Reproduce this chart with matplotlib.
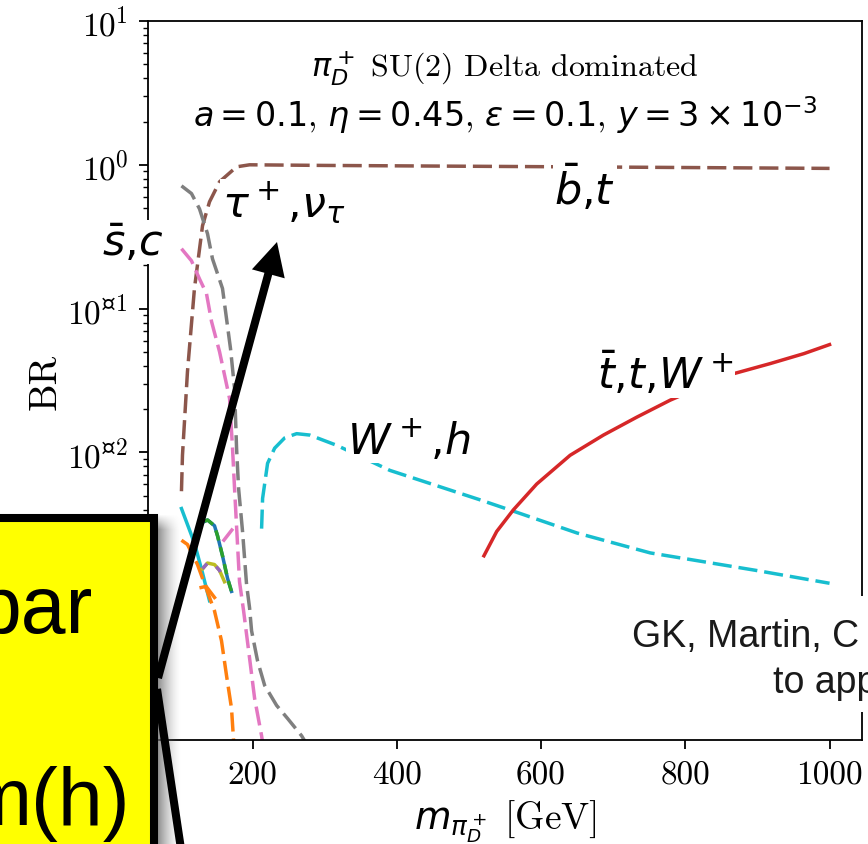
import numpy as np
import matplotlib
matplotlib.use("Agg")
import matplotlib.pyplot as plt
from matplotlib.patches import Rectangle, Polygon
from matplotlib.lines import Line2D

plt.rcParams["font.family"] = ["cmr10", "DejaVu Serif"]
plt.rcParams["mathtext.fontset"] = "dejavusans"
plt.rcParams["mathtext.rm"] = "cmr10"
plt.rcParams["mathtext.sf"] = "DejaVu Serif"
plt.rcParams["mathtext.fallback"] = "stix"
plt.rcParams["axes.unicode_minus"] = False
plt.rcParams["axes.formatter.use_mathtext"] = True

# branching ratios of pi_D^+ vs mass [GeV]
m_bt = [101.4, 102.8, 109.7, 119.4, 130.6, 140.3, 154.2, 177.8, 195.8, 300, 500, 700, 1000]
br_bt = [0.00537, 0.00955, 0.0363, 0.138, 0.377, 0.553, 0.762, 0.968, 1.0, 0.99, 0.977, 0.964, 0.944]

m_taunu = [101.4, 115.3, 126.4, 137.5, 144.4, 158.3, 169.4, 175.0, 177.8, 180.6, 186.1,
           191.7, 195.8, 198.6, 206.9, 216.7, 233.3, 248.6, 268.0, 290.0]
br_taunu = [0.714, 0.631, 0.494, 0.332, 0.222, 0.138, 0.0527, 0.0278, 0.0107, 0.00562, 0.00282,
            0.00120, 0.000832, 0.000575, 0.000355, 0.000240, 0.000174, 0.000141, 0.000107, 0.000070]

m_sc = [101.4, 115.3, 126.4, 136.1, 143.1, 154.2, 168.1, 172.2, 175.0, 181.9, 187.5,
        195.8, 202.8, 212.5, 220.0]
br_sc = [0.261, 0.215, 0.161, 0.127, 0.0813, 0.0501, 0.0237, 0.0107, 0.00562, 0.00126, 0.000794,
         0.000372, 0.000195, 0.000107, 0.000060]

m_wh = [212.5, 213.9, 220.8, 230.6, 244.4, 261.1, 279.2, 316.7, 390.3, 515.3, 562.5, 650.0,
        751.4, 898.6, 1000]
br_wh = [0.00295, 0.00479, 0.00839, 0.0107, 0.0126, 0.0135, 0.0132, 0.0112, 0.0075, 0.00468,
         0.00389, 0.00275, 0.00200, 0.00151, 0.00123]

m_wh_low = [101.4, 119.4, 130.6, 140.3]
br_wh_low = [0.00407, 0.00234, 0.00145, 0.00093]

m_ttw = [520.8, 538.5, 561.5, 594.0, 640.3, 686.5, 732.9, 779.2, 860.1, 918.0, 964.3, 1000]
br_ttw = [0.00191, 0.00282, 0.00398, 0.00603, 0.00955, 0.0132, 0.0176, 0.0231, 0.0345, 0.0415,
          0.0486, 0.0562]

m_blue = [133.3, 137.5, 147.2, 151.4, 158.3, 165.3, 170.8]
br_blue = [0.00331, 0.00339, 0.00309, 0.00263, 0.00191, 0.00133, 0.00108]

m_olive = [130.6, 137.5, 147.2, 154.2, 161.1]
br_olive = [0.00155, 0.00170, 0.00166, 0.00151, 0.00126]

m_orange = [101.4, 109.7, 116.7, 123.6, 130.6, 140.3, 147.2, 156.9, 163.9, 170.8, 173.6, 175.0]
br_orange = [0.00245, 0.00229, 0.00195, 0.00166, 0.00133, 0.00098, 0.00079, 0.00049, 0.00028,
             0.000166, 0.000100, 0.000063]

m_orange2 = [128.7, 135.6, 147.2]
br_orange2 = [0.00115, 0.00117, 0.00098]

m_pink2 = [158.8, 172.7]
br_pink2 = [0.0024, 0.00295]

ytick_vals = [1e-4, 1e-3, 1e-2, 1e-1, 1e0, 1e1]
ytick_text = [r"$10^{\mathsf{¤}4}$", r"$10^{\mathsf{¤}3}$", r"$10^{\mathsf{¤}2}$",
              r"$10^{\mathsf{¤}1}$", "$10^{0}$", "$10^{1}$"]
xtick_vals = [200, 400, 600, 800, 1000]

W, H = 868, 845
fig = plt.figure(figsize=(W / 100, H / 100), dpi=100)
ax = fig.add_axes([148 / W, 1 - 741 / H, (862 - 148) / W, (741 - 22) / H])

lw = 2.5
dash = (5.5, 2.0)
ax.plot(m_bt, br_bt, color="tab:brown", lw=lw, ls="--", dashes=dash)
ax.plot(m_taunu, br_taunu, color="tab:gray", lw=lw, ls="--", dashes=dash)
ax.plot(m_sc, br_sc, color="tab:pink", lw=lw, ls="--", dashes=dash)
ax.plot(m_pink2, br_pink2, color="tab:pink", lw=lw, ls="--", dashes=dash)
ax.plot(m_wh, br_wh, color="tab:cyan", lw=lw, ls="--", dashes=dash)
ax.plot(m_wh_low, br_wh_low, color="tab:cyan", lw=lw)
ax.plot(m_ttw, br_ttw, color="tab:red", lw=lw)
ax.plot(m_orange, br_orange, color="tab:orange", lw=lw, ls="--", dashes=dash)
ax.plot(m_orange2, br_orange2, color="tab:orange", lw=lw)
ax.plot(m_blue, br_blue, color="tab:blue", lw=lw)
ax.plot(m_blue, br_blue, color="tab:green", lw=lw, ls="--", dashes=(3, 2))
ax.plot(m_olive, br_olive, color="tab:olive", lw=lw)
ax.plot(m_olive, br_olive, color="tab:purple", lw=lw, ls="--", dashes=(2, 3))

ax.set_yscale("log")
ax.set_xlim(55, 1045)
ax.set_ylim(1e-4, 10)
ax.set_yticks(ytick_vals)
ax.set_yticklabels(ytick_text, math_fontfamily="custom")
ax.set_xticks(xtick_vals)
ax.set_xticklabels([str(v) for v in xtick_vals])
ax.tick_params(which="major", length=6.5, width=1.3, labelsize=24, pad=8)
ax.tick_params(which="minor", length=3.8, width=1.0)
for s in ax.spines.values():
    s.set_linewidth(1.3)

ax.set_xlabel(r"$m_{\pi_D^+}$ [GeV]", fontsize=27, labelpad=6)
ax.set_ylabel("BR", fontsize=28, labelpad=2)

ax.text(0.5, 0.936, r"$\pi_D^+$ SU(2) Delta dominated", transform=ax.transAxes,
        ha="center", va="center", fontsize=23)
ax.text(0.5, 0.871, r"$a = 0.1$, $\eta = 0.45$, $\varepsilon = 0.1$, $y = 3 \times 10^{-3}$",
        transform=ax.transAxes, ha="center", va="center", fontsize=24)

lbl = dict(ha="center", va="center", fontsize=31, zorder=5,
           bbox=dict(facecolor="white", edgecolor="none", pad=1))
ax.text(33, 0.29, r"$\bar{s}{,}c$", **lbl)
ax.text(243, 0.54, r"$\tau^+{,}\nu_\tau$", **lbl)
ax.text(661, 0.71, r"$\bar{b}{,}t$", **lbl)
ax.text(772, 0.036, r"$\bar{t}{,}t{,}W^+$", **lbl)
ax.text(417, 0.0123, r"$W^+{,}h$", **lbl)

# slide annotations drawn on top, in pixel coordinates
ov = fig.add_axes([0, 0, 1, 1], zorder=10)
ov.patch.set_alpha(0)
ov.axis("off")

shade = np.zeros((330, 26, 4))
fx = np.linspace(0, 1, 26)
fy = np.clip(np.linspace(0, 1, 330) * 22, 0, 1)
shade[..., :3] = 0.42
shade[..., 3] = 0.85 * np.outer(fy, np.clip(1 - fx, 0, 1) ** 1.6)
ov.imshow(shade, extent=(156, 182, 845, 515), aspect="auto", interpolation="bilinear", zorder=1)

tip = np.array([277.0, 243.0])
start = np.array([158.0, 679.0])
u = (tip - start) / np.linalg.norm(tip - start)
nrm = np.array([-u[1], u[0]])
base = tip - 33 * u
ov.add_line(Line2D([start[0], base[0] + 2 * u[0]], [start[1], base[1] + 2 * u[1]],
                   color="black", lw=5.8, solid_capstyle="butt", zorder=2))
ov.add_patch(Polygon([tip, base + 17 * nrm, base - 17 * nrm], closed=True,
                     facecolor="black", edgecolor="none", zorder=2))
ov.add_line(Line2D([157, 184], [690, 870], color="black", lw=5.8,
                   solid_capstyle="butt", zorder=2))

ov.add_patch(Rectangle((-30, 519), 184, 400, facecolor="#ffff00", edgecolor="black",
                       lw=5.8, zorder=3))
box_font = dict(family=["Liberation Sans", "DejaVu Sans"], fontsize=58, color="black",
                ha="right", va="baseline", zorder=4)
ov.text(93, 633, "bar", **box_font)
ov.text(130, 825, "m(h)", **box_font)

ov.add_patch(Rectangle((618, 597), 260, 116, facecolor="white", edgecolor="none", zorder=3))
note_font = dict(family=["Liberation Sans", "DejaVu Sans"], fontsize=27, color="#1a1a1a",
                 va="baseline", zorder=4)
ov.text(632, 647, "GK, Martin, C", ha="left", **note_font)
ov.text(773, 693, "to app", ha="left", **note_font)

ov.set_xlim(0, W)
ov.set_ylim(H, 0)

fig.savefig("out.png", dpi=100)
